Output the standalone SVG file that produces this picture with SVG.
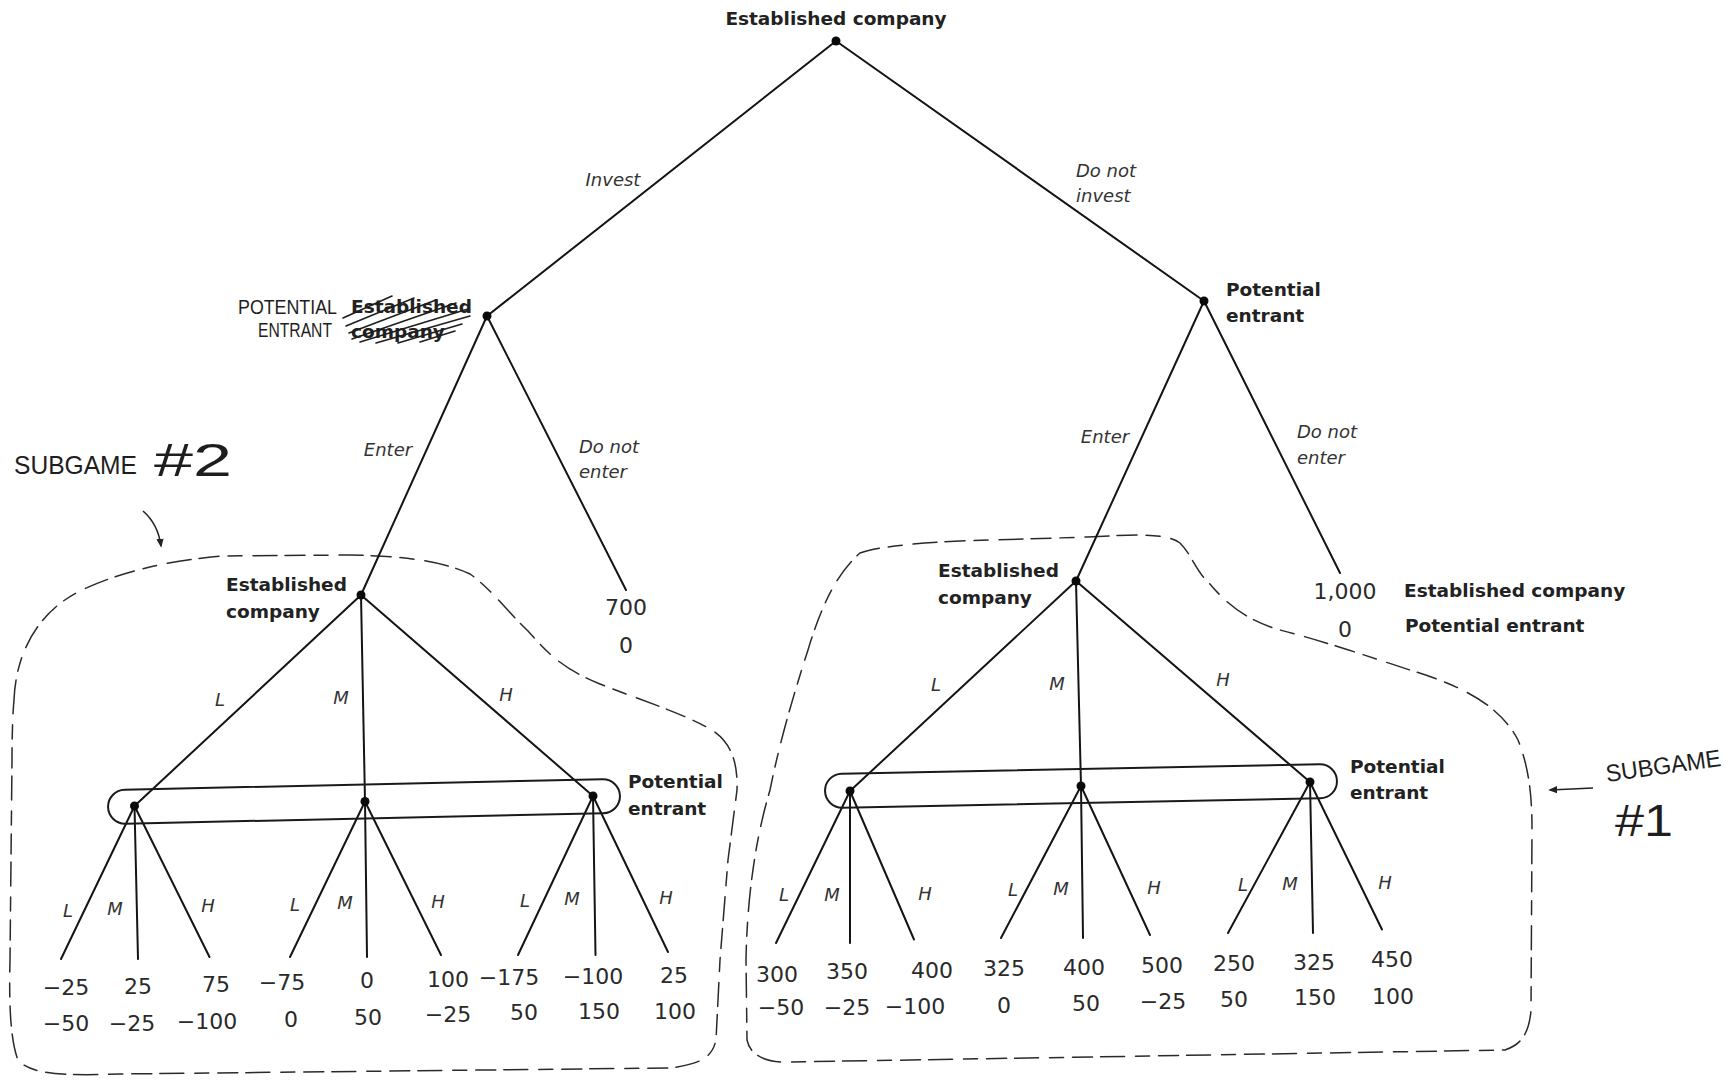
<svg xmlns="http://www.w3.org/2000/svg" width="1729" height="1081" viewBox="0 0 1729 1081">
  <style>
    .edge { stroke: #141414; stroke-width: 2; stroke-linecap: round; fill: none; }
    .dot { fill: #0a0a0a; }
    .info { fill: none; stroke: #1a1a1a; stroke-width: 2; }
    .lbl { font-family: "DejaVu Sans", sans-serif; font-weight: bold; font-size: 18.5px; fill: #222; }
    .act { font-family: "DejaVu Sans", sans-serif; font-style: italic; font-size: 18px; fill: #333; }
    .pay { font-family: "DejaVu Sans", sans-serif; font-size: 22px; fill: #2a2a2a; text-anchor: middle; }
    .hand { font-family: "Liberation Sans", sans-serif; font-weight: normal; fill: #1e1e1e; }
    .sub { fill: none; stroke: #2a2a2a; stroke-width: 1.5; stroke-dasharray: 20 9 14 11 24 8; stroke-linecap: round; }
    .scrib { stroke: #1e1e1e; stroke-width: 1.6; stroke-linecap: round; }
  </style>
  <defs>
    <marker id="tip" viewBox="0 0 10 10" refX="8" refY="5" markerWidth="9" markerHeight="9" orient="auto" markerUnits="userSpaceOnUse">
      <path d="M0,1 L10,5 L0,9 Z" fill="#222"/>
    </marker>
  </defs>
  <rect width="1729" height="1081" fill="#ffffff"/>

  <!-- subgame outlines (hand-drawn dashed) -->
  <g id="subgame-outlines">
    <path class="sub" d="M14 700 C16 650 40 610 82 590 C120 572 170 560 223 556 L349 555 C400 556 440 560 470 574 C490 588 508 612 528 631 C545 650 560 668 600 684 C640 700 680 712 712 730 C730 742 738 760 737 790 L728 860 L720 960 L716 1040 C712 1058 700 1064 670 1068 L120 1074 C60 1076 30 1074 18 1060 C10 1040 9 1000 10 960 L12 760 C12 730 13 710 14 700 Z"/>
    <path class="sub" d="M860 553 C880 546 920 543 960 541 L1088 537 C1130 535 1165 532 1180 543 C1192 555 1195 570 1209 583 C1225 602 1245 620 1280 630 C1320 640 1370 657 1410 670 C1460 685 1500 705 1518 740 C1530 770 1532 800 1532 830 L1531 1010 C1529 1035 1520 1045 1505 1050 L790 1062 C765 1063 750 1055 747 1040 L746 960 C747 900 755 840 770 790 C780 740 795 690 808 650 C820 610 835 575 860 553 Z"/>
  </g>

  <!-- handwritten annotations -->
  <g id="note-subgame-2">
    <text class="hand" x="14" y="474" font-size="25" textLength="123" lengthAdjust="spacingAndGlyphs">SUBGAME</text>
    <text class="hand" x="154" y="476" font-size="46" textLength="78" lengthAdjust="spacingAndGlyphs">#2</text>
    <path d="M143 511 Q158 524 161 546" fill="none" stroke="#222" stroke-width="1.6" marker-end="url(#tip)"/>
  </g>
  <g id="note-subgame-1">
    <text class="hand" x="1607" y="782" font-size="24" textLength="116" lengthAdjust="spacingAndGlyphs" transform="rotate(-8 1607 782)">SUBGAME</text>
    <text class="hand" x="1615" y="836" font-size="44" textLength="58" lengthAdjust="spacingAndGlyphs">#1</text>
    <line x1="1593" y1="788" x2="1550" y2="790" stroke="#222" stroke-width="1.6" marker-end="url(#tip)"/>
  </g>

  <!-- connectors -->
  <g id="connectors">
    <line class="edge" x1="836" y1="41" x2="487" y2="316"/>
    <line class="edge" x1="836" y1="41" x2="1204" y2="301"/>
    <line class="edge" x1="487" y1="316" x2="361" y2="595"/>
    <line class="edge" x1="487" y1="316" x2="626" y2="590"/>
    <line class="edge" x1="1204" y1="301" x2="1076" y2="581"/>
    <line class="edge" x1="1204" y1="301" x2="1340" y2="573"/>
    <line class="edge" x1="361" y1="595" x2="134.5" y2="806"/>
    <line class="edge" x1="361" y1="595" x2="365" y2="801.5"/>
    <line class="edge" x1="361" y1="595" x2="593" y2="796"/>
    <line class="edge" x1="1076" y1="581" x2="850" y2="791"/>
    <line class="edge" x1="1076" y1="581" x2="1081" y2="786"/>
    <line class="edge" x1="1076" y1="581" x2="1310" y2="782"/>
    <line class="edge" x1="134.5" y1="806" x2="61" y2="959"/>
    <line class="edge" x1="134.5" y1="806" x2="138" y2="959"/>
    <line class="edge" x1="134.5" y1="806" x2="209.5" y2="957"/>
    <line class="edge" x1="365" y1="801.5" x2="290" y2="957"/>
    <line class="edge" x1="365" y1="801.5" x2="367" y2="957"/>
    <line class="edge" x1="365" y1="801.5" x2="441" y2="955"/>
    <line class="edge" x1="593" y1="796" x2="518" y2="955"/>
    <line class="edge" x1="593" y1="796" x2="595.5" y2="955"/>
    <line class="edge" x1="593" y1="796" x2="668" y2="952"/>
    <line class="edge" x1="850" y1="791" x2="776" y2="943"/>
    <line class="edge" x1="850" y1="791" x2="850" y2="943"/>
    <line class="edge" x1="850" y1="791" x2="914" y2="939.5"/>
    <line class="edge" x1="1081" y1="786" x2="1001" y2="938"/>
    <line class="edge" x1="1081" y1="786" x2="1083" y2="938"/>
    <line class="edge" x1="1081" y1="786" x2="1150" y2="935"/>
    <line class="edge" x1="1310" y1="782" x2="1228" y2="933"/>
    <line class="edge" x1="1310" y1="782" x2="1313" y2="933"/>
    <line class="edge" x1="1310" y1="782" x2="1382" y2="929.5"/>

    <!-- action labels -->
    <text class="act" x="613" y="186" text-anchor="middle">Invest</text>
    <text class="act" x="1076" y="177">Do not</text>
    <text class="act" x="1076" y="202">invest</text>
    <text class="act" x="388" y="456" text-anchor="middle">Enter</text>
    <text class="act" x="579" y="453">Do not</text>
    <text class="act" x="579" y="478">enter</text>
    <text class="act" x="1105" y="443" text-anchor="middle">Enter</text>
    <text class="act" x="1297" y="438">Do not</text>
    <text class="act" x="1297" y="464">enter</text>

    <g class="act" text-anchor="middle">
      <text x="220" y="706">L</text><text x="341" y="704">M</text><text x="506" y="701">H</text>
      <text x="936" y="691">L</text><text x="1057" y="690">M</text><text x="1223" y="686">H</text>
      <text x="68" y="917">L</text><text x="115" y="915">M</text><text x="208" y="912">H</text>
      <text x="295" y="911">L</text><text x="345" y="909">M</text><text x="438" y="908">H</text>
      <text x="525" y="907">L</text><text x="572" y="905">M</text><text x="666" y="904">H</text>
      <text x="784" y="901">L</text><text x="832" y="901">M</text><text x="925" y="900">H</text>
      <text x="1013" y="896">L</text><text x="1061" y="895">M</text><text x="1154" y="894">H</text>
      <text x="1243" y="891">L</text><text x="1290" y="890">M</text><text x="1385" y="889">H</text>
    </g>
  </g>

  <!-- decision nodes -->
  <g id="node-root">
    <circle class="dot" cx="836" cy="41" r="4.5"/>
    <text class="lbl" x="836" y="25" text-anchor="middle">Established company</text>
  </g>
  <g id="node-entrant-invest">
    <circle class="dot" cx="487" cy="316" r="4.5"/>
    <text class="hand" x="238" y="314" font-size="21" textLength="99" lengthAdjust="spacingAndGlyphs">POTENTIAL</text>
    <text class="hand" x="258" y="337" font-size="20" textLength="74" lengthAdjust="spacingAndGlyphs">ENTRANT</text>
    <text class="lbl" x="351" y="313">Established</text>
    <text class="lbl" x="351" y="338">company</text>
    <g class="scrib">
      <line x1="343" y1="318" x2="392" y2="296"/>
      <line x1="346" y1="326" x2="414" y2="298"/>
      <line x1="349" y1="333" x2="436" y2="300"/>
      <line x1="352" y1="339" x2="456" y2="303"/>
      <line x1="360" y1="342" x2="468" y2="309"/>
      <line x1="376" y1="343" x2="470" y2="316"/>
      <line x1="398" y1="343" x2="462" y2="324"/>
      <line x1="420" y1="342" x2="455" y2="331"/>
    </g>
  </g>
  <g id="node-entrant-noinvest">
    <circle class="dot" cx="1204" cy="301" r="4.5"/>
    <text class="lbl" x="1226" y="296">Potential</text>
    <text class="lbl" x="1226" y="322">entrant</text>
  </g>
  <g id="node-company-left">
    <circle class="dot" cx="361" cy="595" r="4.5"/>
    <text class="lbl" x="226" y="591">Established</text>
    <text class="lbl" x="226" y="618">company</text>
  </g>
  <g id="node-company-right">
    <circle class="dot" cx="1076" cy="581" r="4.5"/>
    <text class="lbl" x="938" y="577">Established</text>
    <text class="lbl" x="938" y="604">company</text>
  </g>
  <g id="infoset-left">
    <rect class="info" x="108" y="784.5" width="512" height="34" rx="17" transform="rotate(-1.25 364 801.5)"/>
    <circle class="dot" cx="134.5" cy="806" r="4.5"/>
    <circle class="dot" cx="365" cy="801.5" r="4.5"/>
    <circle class="dot" cx="593" cy="796" r="4.5"/>
    <text class="lbl" x="628" y="788">Potential</text>
    <text class="lbl" x="628" y="815">entrant</text>
  </g>
  <g id="infoset-right">
    <rect class="info" x="825" y="769" width="512" height="34" rx="17" transform="rotate(-1.12 1081 786)"/>
    <circle class="dot" cx="850" cy="791" r="4.5"/>
    <circle class="dot" cx="1081" cy="786" r="4.5"/>
    <circle class="dot" cx="1310" cy="782" r="4.5"/>
    <text class="lbl" x="1350" y="773">Potential</text>
    <text class="lbl" x="1350" y="799">entrant</text>
  </g>

  <!-- terminal payoffs: established company above, potential entrant below -->
  <g id="payoff-invest-noenter">
    <text class="pay" x="626" y="615">700</text>
    <text class="pay" x="626" y="653">0</text>
  </g>
  <g id="payoff-noinvest-noenter">
    <text class="pay" x="1345" y="599">1,000</text>
    <text class="pay" x="1345" y="637">0</text>
    <text class="lbl" x="1404" y="597">Established company</text>
    <text class="lbl" x="1405" y="632">Potential entrant</text>
  </g>
  <g id="payoffs-left">
    <text class="pay" x="66" y="995">−25</text><text class="pay" x="66" y="1031">−50</text>
    <text class="pay" x="138" y="994">25</text><text class="pay" x="132" y="1031">−25</text>
    <text class="pay" x="216" y="992">75</text><text class="pay" x="207" y="1029">−100</text>
    <text class="pay" x="282" y="990">−75</text><text class="pay" x="291" y="1027">0</text>
    <text class="pay" x="367" y="988">0</text><text class="pay" x="368" y="1025">50</text>
    <text class="pay" x="448" y="987">100</text><text class="pay" x="448" y="1022">−25</text>
    <text class="pay" x="509" y="985">−175</text><text class="pay" x="524" y="1020">50</text>
    <text class="pay" x="593" y="984">−100</text><text class="pay" x="599" y="1019">150</text>
    <text class="pay" x="674" y="983">25</text><text class="pay" x="675" y="1019">100</text>
  </g>
  <g id="payoffs-right">
    <text class="pay" x="777" y="982">300</text><text class="pay" x="781" y="1015">−50</text>
    <text class="pay" x="847" y="979">350</text><text class="pay" x="847" y="1015">−25</text>
    <text class="pay" x="932" y="978">400</text><text class="pay" x="915" y="1014">−100</text>
    <text class="pay" x="1004" y="976">325</text><text class="pay" x="1004" y="1013">0</text>
    <text class="pay" x="1084" y="975">400</text><text class="pay" x="1086" y="1011">50</text>
    <text class="pay" x="1162" y="973">500</text><text class="pay" x="1163" y="1009">−25</text>
    <text class="pay" x="1234" y="971">250</text><text class="pay" x="1234" y="1007">50</text>
    <text class="pay" x="1314" y="970">325</text><text class="pay" x="1315" y="1005">150</text>
    <text class="pay" x="1392" y="967">450</text><text class="pay" x="1393" y="1004">100</text>
  </g>
</svg>
